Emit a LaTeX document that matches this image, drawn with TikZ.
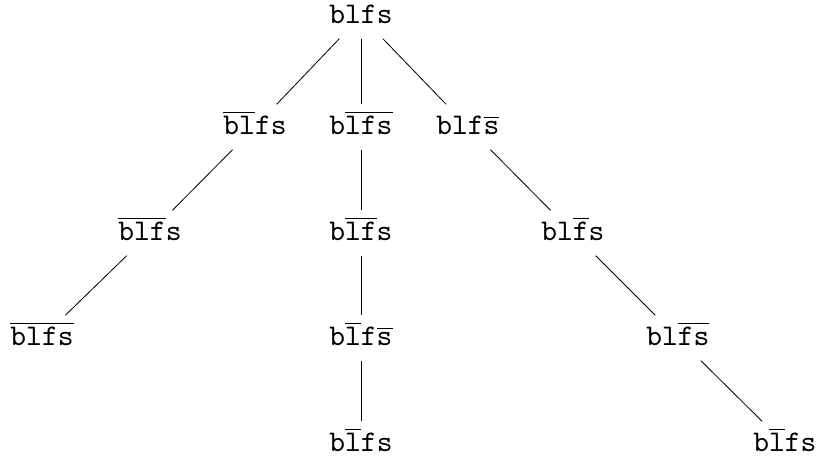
\documentclass[tikz,border=0pt]{standalone}
\newcommand{\ob}[1]{$\overline{\mathtt{#1}}$}
\begin{document}
\begin{tikzpicture}[x=0.3333pt,y=-0.3333pt,
  lbl/.style={font=\ttfamily, inner sep=0pt,
    text height=7.3pt, text depth=2pt, minimum height=14.7pt},
  edge/.style={draw=black, line width=0.27pt}]
  \useasboundingbox (0,0) rectangle (821,463);
  % root
  \node[lbl] (r) at (361,16) {blfs};
  % first level
  \node[lbl] (a) at (255,127) {\ob{bl}fs};
  \node[lbl] (b) at (361,127) {b\ob{lfs}};
  \node[lbl] (c) at (468,127) {blf\ob{s}};
  % second level
  \node[lbl] (a1) at (150,233) {\ob{blf}s};
  \node[lbl] (b1) at (361,233) {b\ob{lf}s};
  \node[lbl] (c1) at (573,233) {bl\ob{f}s};
  % third level
  \node[lbl] (a2) at (42,338) {\ob{blfs}};
  \node[lbl] (b2) at (361,338) {b\ob{l}f\ob{s}};
  \node[lbl] (c2) at (678,338) {bl\ob{fs}};
  % fourth level
  \node[lbl] (b3) at (361,444) {b\ob{l}fs};
  \node[lbl] (c3) at (785,444) {b\ob{l}fs};
  % connectors
  \path[edge] (r) -- (a);
  \path[edge] (r) -- (b);
  \path[edge] (r) -- (c);
  \path[edge] (a) -- (a1);
  \path[edge] (a1) -- (a2);
  \path[edge] (b) -- (b1);
  \path[edge] (b1) -- (b2);
  \path[edge] (b2) -- (b3);
  \path[edge] (c) -- (c1);
  \path[edge] (c1) -- (c2);
  \path[edge] (c2) -- (c3);
\end{tikzpicture}
\end{document}
